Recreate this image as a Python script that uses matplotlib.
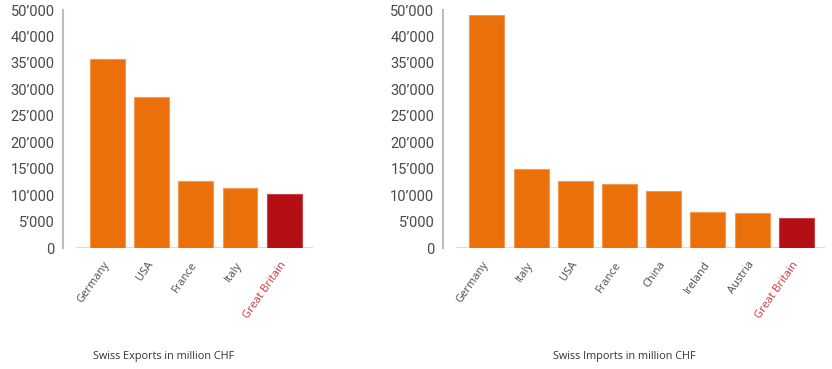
import matplotlib.pyplot as plt
import matplotlib.transforms as mtransforms

# values (million CHF)
export_countries = ['Germany', 'USA', 'France', 'Italy', 'Great Britain']
export_values = [35800, 28500, 12650, 11300, 10200]

import_countries = ['Germany', 'Italy', 'USA', 'France', 'China', 'Ireland', 'Austria', 'Great Britain']
import_values = [44000, 15000, 12800, 12100, 10900, 6800, 6700, 5700]

ytick_values = [0, 5000, 10000, 15000, 20000, 25000, 30000, 35000, 40000, 45000]
ytick_labels = ['0', '5’000', '10’000', '15’000', '20’000', '25’000',
                '30’000', '35’000', '40’000', '50’000']

orange = '#EC700A'
red = '#B30F14'
label_red = '#D2353A'
grey_text = '#4a4a4a'

plt.rcParams['font.family'] = ['Open Sans', 'DejaVu Sans']

fig = plt.figure(figsize=(8.32, 3.69), dpi=100)
ax1 = fig.add_axes([63 / 832, 1 - 248.3 / 369, 250 / 832, 238.3 / 369])
ax2 = fig.add_axes([442.7 / 832, 1 - 248.3 / 369, 382.3 / 832, 238.3 / 369])


def draw(ax, countries, values):
    n = len(countries)
    colors = [orange] * (n - 1) + [red]
    edges = ['#F29A55'] * (n - 1) + ['#C8454A']
    ax.bar(range(n), values, width=0.79, color=colors, edgecolor=edges, linewidth=0.8, zorder=2)
    ax.hlines(0, -0.7, n - 0.35, color='#dcdcdc', linewidth=1.5, zorder=1)
    ax.set_xlim(-1, n - 0.35)
    ax.set_ylim(0, 45000)

    for s in ['top', 'right', 'bottom']:
        ax.spines[s].set_visible(False)
    ax.spines['left'].set_color('#bdbdbd')
    ax.spines['left'].set_linewidth(1.5)

    ax.set_yticks(ytick_values)
    ax.set_yticklabels(ytick_labels, family=['Roboto', 'DejaVu Sans'], fontsize=10.5, color=grey_text)
    ax.tick_params(axis='y', which='major', length=0, pad=6)
    ax.set_yticks([0, 45000], minor=True)
    ax.tick_params(axis='y', which='minor', direction='in', length=6, width=1.2, color='#bdbdbd')

    ax.set_xticks(range(n))
    ax.set_xticklabels(countries, rotation=55, ha='right', va='top', fontsize=8, color=grey_text)
    ax.tick_params(axis='x', length=0, pad=8)
    offset = mtransforms.ScaledTranslation(3 / 72, 0, fig.dpi_scale_trans)
    for lab in ax.get_xticklabels():
        lab.set_transform(lab.get_transform() + offset)
    ax.get_xticklabels()[-1].set_color(label_red)


draw(ax1, export_countries, export_values)
draw(ax2, import_countries, import_values)

fig.text(164 / 832, 1 - 356 / 369, 'Swiss Exports in million CHF', ha='center', va='center',
         fontsize=7.8, color='#333333')
fig.text(624 / 832, 1 - 356 / 369, 'Swiss Imports in million CHF', ha='center', va='center',
         fontsize=7.8, color='#333333')

fig.savefig('out.png', dpi=100)
